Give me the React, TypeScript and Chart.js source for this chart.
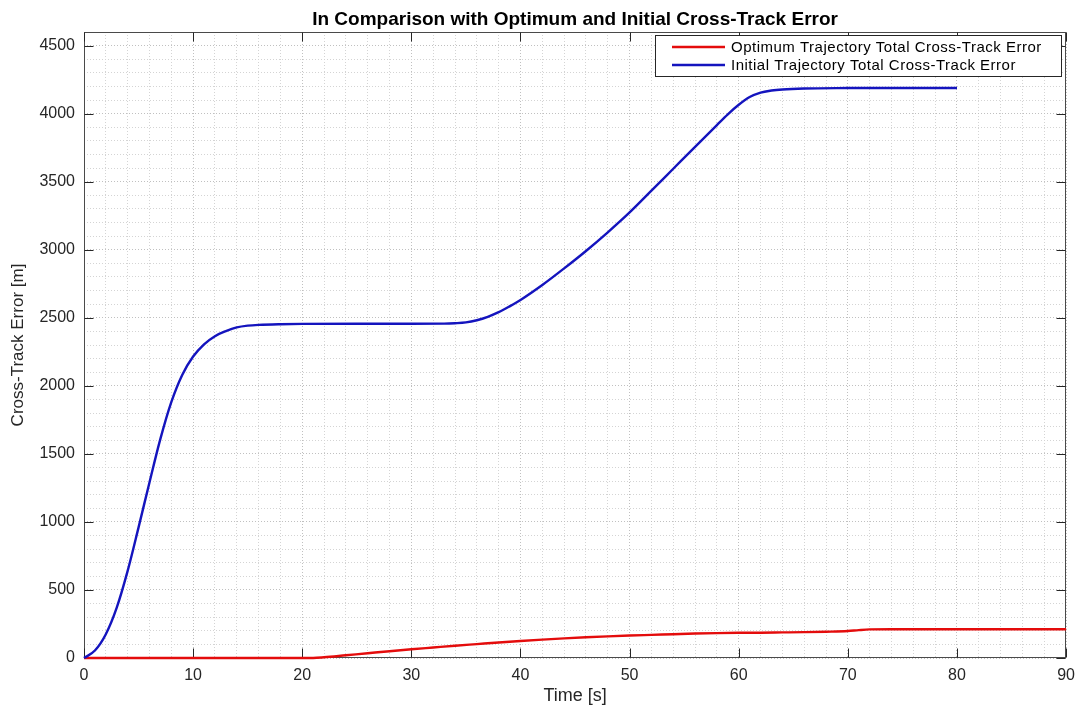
import React, { useEffect, useRef } from 'react';
import { Chart, registerables } from 'chart.js';

Chart.register(...registerables);

const chartTitle = 'In Comparison with Optimum and Initial Cross-Track Error';
const xAxisTitle = 'Time [s]';
const yAxisTitle = 'Cross-Track Error [m]';
const seriesLabels = [
  'Optimum Trajectory Total Cross-Track Error',
  'Initial Trajectory Total Cross-Track Error',
];

const timeRed = [0, 10, 21, 22, 24, 26, 28, 30, 32, 34, 36, 38, 40, 42, 44, 46, 48, 50, 52, 54, 56, 58, 60, 62, 64, 66, 68, 70, 71, 72, 74, 80, 90];
const valuesRed = [0, 0, 0, 5, 20, 35, 50, 64, 77, 90, 102, 114, 125, 135, 144, 152, 159, 165, 170, 175, 180, 183, 185, 186, 188, 190, 193, 198, 205, 210, 211, 211, 211];

const timeBlue = [0, 1, 2, 3, 4, 5, 6, 7, 8, 9, 10, 11, 12, 13, 14, 15, 16, 18, 20, 25, 30, 33, 34, 35, 36, 37, 38, 39, 40, 42, 44, 46, 48, 50, 52, 54, 56, 58, 59, 60, 61, 62, 63, 64, 66, 70, 75, 80];
const valuesBlue = [0, 55, 175, 370, 640, 960, 1290, 1610, 1880, 2080, 2215, 2305, 2365, 2402, 2429, 2442, 2448, 2453, 2455, 2456, 2456, 2457, 2460, 2466, 2482, 2507, 2541, 2584, 2631, 2741, 2863, 2991, 3128, 3274, 3434, 3595, 3756, 3916, 3995, 4065, 4122, 4155, 4170, 4178, 4185, 4188, 4189, 4189];

const xTickLabels = [0, 10, 20, 30, 40, 50, 60, 70, 80, 90];
const yTickLabels = [0, 500, 1000, 1500, 2000, 2500, 3000, 3500, 4000, 4500];

const FONT = '"Liberation Sans", Arial, Helvetica, sans-serif';
const RED = 'rgb(228,12,12)';
const BLUE = 'rgb(20,20,190)';

const isLabelled = (list: number[], v: number) => list.some((l) => Math.abs(l - v) < 1e-6);

const boxPlugin = {
  id: 'matlabBox',
  beforeDatasetsDraw(chart: any) {
    const { ctx, chartArea } = chart;
    const { left, right, top, bottom } = chartArea;
    const xs = chart.scales.x;
    const ys = chart.scales.y;
    ctx.save();
    ctx.strokeStyle = '#4a4a4a';
    ctx.lineWidth = 1;
    const L = Math.round(left) + 0.5;
    const R = Math.round(right) - 0.5;
    const T = Math.round(top) + 0.5;
    const B = Math.round(bottom) - 0.5;
    ctx.strokeRect(L, T, R - L, B - T);
    const tl = 9;
    ctx.strokeStyle = '#262626';
    ctx.beginPath();
    xTickLabels.forEach((v) => {
      const px = Math.round(xs.getPixelForValue(v)) + 0.5;
      ctx.moveTo(px, B);
      ctx.lineTo(px, B - tl);
      ctx.moveTo(px, T);
      ctx.lineTo(px, T + tl);
    });
    yTickLabels.forEach((v) => {
      const py = Math.round(ys.getPixelForValue(v)) + 0.5;
      ctx.moveTo(L, py);
      ctx.lineTo(L + tl, py);
      ctx.moveTo(R, py);
      ctx.lineTo(R - tl, py);
    });
    ctx.stroke();
    ctx.restore();
  },
};

const legendPlugin = {
  id: 'matlabLegend',
  afterDraw(chart: any) {
    const { ctx, chartArea } = chart;
    ctx.save();
    ctx.font = `15px ${FONT}`;
    try {
      (ctx as any).letterSpacing = '0.5px';
    } catch (e) {
      /* ignore */
    }
    const widths = seriesLabels.map((s) => ctx.measureText(s).width);
    const textW = Math.max(...widths);
    const padL = 17;
    const lineLen = 53;
    const gap = 6;
    const padR = 20;
    const boxW = Math.round(padL + lineLen + gap + textW + padR);
    const right = Math.round(chartArea.right) - 4;
    const left = right - boxW;
    const top = Math.round(chartArea.top) + 3;
    const rowH = 18;
    const boxH = 42;
    ctx.fillStyle = '#ffffff';
    ctx.fillRect(left, top, boxW, boxH);
    ctx.strokeStyle = '#262626';
    ctx.lineWidth = 1;
    ctx.strokeRect(left + 0.5, top + 0.5, boxW - 1, boxH - 1);
    const colors = [RED, BLUE];
    seriesLabels.forEach((s, i) => {
      const cy = top + 12 + i * rowH;
      ctx.strokeStyle = colors[i];
      ctx.lineWidth = 2.4;
      ctx.beginPath();
      ctx.moveTo(left + padL, cy);
      ctx.lineTo(left + padL + lineLen, cy);
      ctx.stroke();
      ctx.fillStyle = '#000000';
      ctx.textBaseline = 'middle';
      ctx.textAlign = 'left';
      ctx.fillText(s, left + padL + lineLen + gap, cy + 1);
    });
    ctx.restore();
  },
};

export default function App() {
  const canvasRef = useRef<HTMLCanvasElement | null>(null);

  useEffect(() => {
    if (!canvasRef.current) return;
    const gridColor = (list: number[]) => (c: any) =>
      c.tick && isLabelled(list, c.tick.value) ? '#c0c0c0' : '#d4d4d4';

    const chart = new Chart(canvasRef.current, {
      type: 'line',
      data: {
        datasets: [
          {
            label: seriesLabels[1],
            data: timeBlue.map((t, i) => ({ x: t, y: valuesBlue[i] })),
            borderColor: BLUE,
            backgroundColor: BLUE,
            borderWidth: 2.4,
            pointRadius: 0,
            cubicInterpolationMode: 'monotone',
            clip: 4,
          },
          {
            label: seriesLabels[0],
            data: timeRed.map((t, i) => ({ x: t, y: valuesRed[i] })),
            borderColor: RED,
            backgroundColor: RED,
            borderWidth: 2.4,
            pointRadius: 0,
            cubicInterpolationMode: 'monotone',
            clip: 4,
          },
        ],
      },
      options: {
        responsive: false,
        animation: false,
        layout: { padding: { left: 0, right: 15, top: 0, bottom: 0 } },
        plugins: {
          legend: { display: false },
          tooltip: { enabled: false },
          title: {
            display: true,
            text: chartTitle,
            fullSize: false,
            color: '#000000',
            font: { family: FONT, size: 19, weight: 'bold' },
            padding: { top: 8, bottom: 1.2 },
          },
        },
        scales: {
          x: {
            type: 'linear',
            min: 0,
            max: 90,
            afterFit: (s: any) => {
              s.height = 51;
            },
            ticks: {
              stepSize: 2,
              autoSkip: false,
              maxRotation: 0,
              padding: 8,
              color: '#262626',
              font: { family: FONT, size: 16 },
              callback: (v: any) => (isLabelled(xTickLabels, Number(v)) ? String(Math.round(Number(v))) : ''),
            },
            grid: { drawTicks: false, color: gridColor(xTickLabels), lineWidth: 1 },
            border: { display: false, dash: [1, 2] },
            title: {
              display: true,
              text: xAxisTitle,
              color: '#262626',
              font: { family: FONT, size: 18 },
              padding: { top: 0, bottom: 2 },
            },
          },
          y: {
            type: 'linear',
            min: 0,
            max: 4600,
            afterFit: (s: any) => {
              s.width = 84;
            },
            ticks: {
              stepSize: 100,
              autoSkip: false,
              padding: 9,
              color: '#262626',
              font: { family: FONT, size: 16 },
              callback: (v: any) => (isLabelled(yTickLabels, Number(v)) ? String(Math.round(Number(v))) : ''),
            },
            grid: { drawTicks: false, color: gridColor(yTickLabels), lineWidth: 1 },
            border: { display: false, dash: [1, 2] },
            title: {
              display: true,
              text: yAxisTitle,
              color: '#262626',
              font: { family: FONT, size: 17 },
              padding: { top: 8, bottom: 0 },
            },
          },
        },
      } as any,
      plugins: [boxPlugin, legendPlugin],
    });
    return () => chart.destroy();
  }, []);

  return (
    <div style={{ position: 'absolute', left: 0, top: 0, width: 1083, height: 709, background: '#ffffff' }}>
      <canvas ref={canvasRef} width={1083} height={709} style={{ display: 'block' }} />
    </div>
  );
}
